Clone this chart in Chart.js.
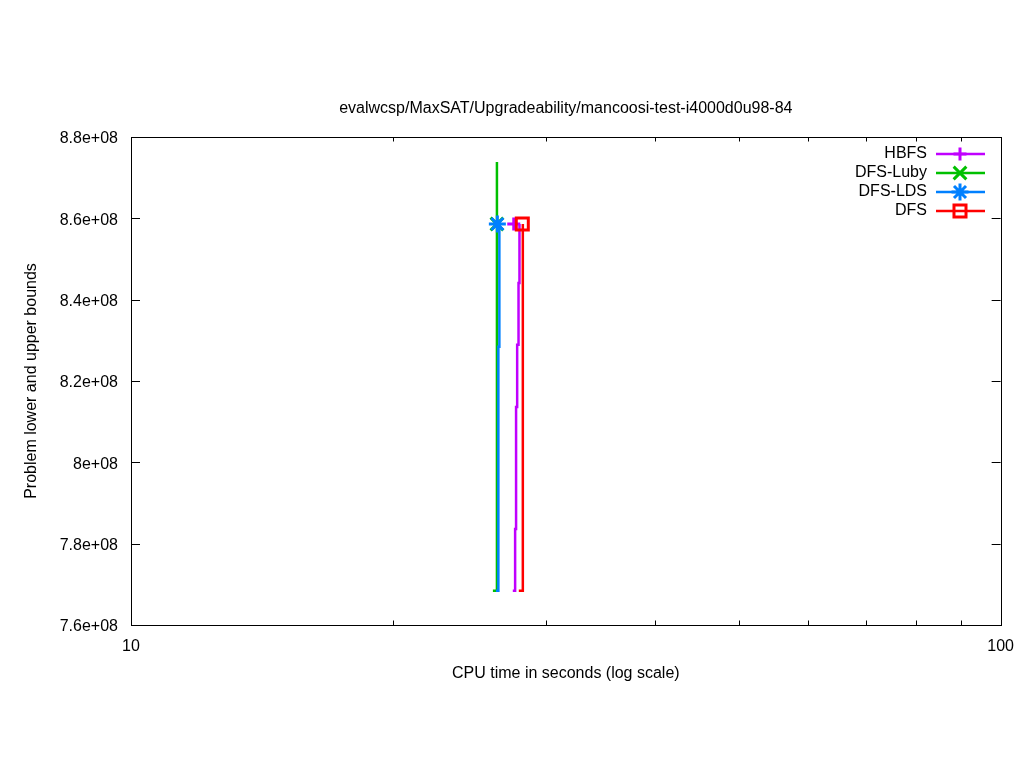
<!DOCTYPE html>
<html>
<head>
<meta charset="utf-8">
<script src="https://cdn.jsdelivr.net/npm/chart.js@4.4.1/dist/chart.umd.min.js"></script>
<style>
html, body { margin: 0; padding: 0; background: #fff; }
#wrap { width: 1024px; height: 768px; }
</style>
</head>
<body>
<div id="wrap"><canvas id="boundsChart" width="1024" height="768"></canvas></div>
<script>
// Data (waktu CPU dalam detik, nilai batas)
const ALGOS = ["HBFS", "DFS-Luby", "DFS-LDS", "DFS"];
const COLORS = ['#c000ff', '#00c000', '#0080ff', '#ff0000'];
const POINT_STYLES = ['cross', 'crossRot', 'star', 'rect'];

const hbfsLowerTime = [27.48, 27.65, 27.72, 27.80, 27.90, 27.97];
const hbfsLowerVal  = [7.684e8, 7.836e8, 8.136e8, 8.289e8, 8.441e8, 8.586e8];

const lubyLowerTime = [26.07, 26.35];
const lubyLowerVal  = [7.684e8, 8.586e8];
const lubyUpperTime = [26.35, 26.35];
const lubyUpperVal  = [8.7385e8, 8.586e8];

const ldsLowerTime = [26.28, 26.45, 26.52];
const ldsLowerVal  = [7.684e8, 8.284e8, 8.586e8];

const dfsLowerTime = [27.92, 28.22];
const dfsLowerVal  = [7.684e8, 8.586e8];

// titik akhir (marker) tiap algoritma
const finalTime = [27.55, 26.35, 26.38, 28.18];
const finalVal  = [8.586e8, 8.586e8, 8.586e8, 8.586e8];

const X_MIN = 10, X_MAX = 100;
const Y_MIN = 7.6e8, Y_MAX = 8.8e8, Y_STEP = 2e7;

const FONT = '"Liberation Sans", Arial, sans-serif';
Chart.defaults.font.family = FONT;
Chart.defaults.font.size = 16;
Chart.defaults.color = '#000';

function toPoints(xs, ys) {
    return xs.map((x, i) => ({ x: x, y: ys[i] }));
}

function sciLabel(v) {
    let [m, e] = Number(v).toExponential().split('e');
    m = String(parseFloat(parseFloat(m).toFixed(3)));
    const sign = e[0];
    e = e.slice(1).padStart(2, '0');
    return m + 'e' + sign + e;
}

function stepLine(idx, xs, ys) {
    return {
        label: ALGOS[idx],
        data: toPoints(xs, ys),
        borderColor: COLORS[idx],
        borderWidth: 2.5,
        stepped: true,
        pointRadius: 0,
        fill: false,
        order: 4 - idx
    };
}

function markerSet(idx, radius) {
    return {
        label: ALGOS[idx] + ' marker',
        data: [{ x: finalTime[idx], y: finalVal[idx] }],
        showLine: false,
        pointStyle: POINT_STYLES[idx],
        pointRadius: radius,
        pointBorderWidth: 3,
        pointBorderColor: COLORS[idx],
        pointBackgroundColor: 'rgba(0,0,0,0)',
        order: 4 - idx
    };
}

const MARKER_RADIUS = [6.5, 9, 8.5, 8.5];

// Bingkai + tick ke arah dalam (gaya gnuplot)
const frameTicks = {
    id: 'frameTicks',
    afterDatasetsDraw(chart) {
        const { ctx, chartArea: a, scales } = chart;
        ctx.save();
        ctx.strokeStyle = '#000';
        ctx.lineWidth = 1;
        ctx.beginPath();
        scales.y.ticks.forEach(t => {
            const y = Math.round(scales.y.getPixelForValue(t.value)) + 0.5;
            ctx.moveTo(a.left, y); ctx.lineTo(a.left + 9, y);
            ctx.moveTo(a.right, y); ctx.lineTo(a.right - 9, y);
        });
        // hanya 10,20,...,100 (tick minor gnuplot)
        scales.x.ticks.filter(t => Math.abs(t.value % 10) < 1e-9).forEach(t => {
            const x = Math.round(scales.x.getPixelForValue(t.value)) + 0.5;
            const major = (t.value === X_MIN || t.value === X_MAX);
            const len = major ? 9 : 4.5;
            ctx.moveTo(x, a.bottom); ctx.lineTo(x, a.bottom - len);
            ctx.moveTo(x, a.top); ctx.lineTo(x, a.top + len);
        });
        ctx.stroke();
        ctx.strokeRect(Math.round(a.left) + 0.5, Math.round(a.top) + 0.5,
            Math.round(a.right - a.left), Math.round(a.bottom - a.top));
        ctx.restore();
    }
};

// Legenda gaya gnuplot: teks rata kanan, garis + marker
const gnuLegend = {
    id: 'gnuLegend',
    afterDraw(chart) {
        const { ctx } = chart;
        ctx.save();
        ctx.font = '16px ' + FONT;
        ctx.textAlign = 'right';
        ctx.textBaseline = 'middle';
        ALGOS.forEach((name, i) => {
            const y = 154 + i * 19;
            ctx.fillStyle = '#000';
            ctx.fillText(name, 927, y);
            ctx.strokeStyle = COLORS[i];
            ctx.lineWidth = 2.5;
            ctx.beginPath();
            ctx.moveTo(936, y); ctx.lineTo(985, y);
            ctx.stroke();
            ctx.lineWidth = 3;
            ctx.fillStyle = 'rgba(0,0,0,0)';
            Chart.helpers.drawPoint(ctx, {
                pointStyle: POINT_STYLES[i], radius: MARKER_RADIUS[i], rotation: 0, borderWidth: 3
            }, 960, y);
        });
        ctx.restore();
    }
};

const ctx = document.getElementById('boundsChart').getContext('2d');
new Chart(ctx, {
    type: 'line',
    data: {
        datasets: [
            stepLine(0, hbfsLowerTime, hbfsLowerVal),
            stepLine(1, lubyLowerTime, lubyLowerVal),
            stepLine(1, lubyUpperTime, lubyUpperVal),
            stepLine(2, ldsLowerTime, ldsLowerVal),
            stepLine(3, dfsLowerTime, dfsLowerVal),
            markerSet(0, MARKER_RADIUS[0]),
            markerSet(1, MARKER_RADIUS[1]),
            markerSet(2, MARKER_RADIUS[2]),
            markerSet(3, MARKER_RADIUS[3])
        ]
    },
    options: {
        responsive: false,
        animation: false,
        layout: { padding: { top: 0, right: 23, bottom: 0, left: 0 } },
        plugins: {
            legend: { display: false },
            tooltip: { enabled: false },
            title: {
                display: true,
                fullSize: false,
                text: 'evalwcsp/MaxSAT/Upgradeability/mancoosi-test-i4000d0u98-84',
                font: { size: 16, weight: 'normal' },
                color: '#000',
                padding: { top: 99.4, bottom: 18.4 }
            }
        },
        scales: {
            x: {
                type: 'logarithmic',
                min: X_MIN,
                max: X_MAX,
                // tick bawaan disembunyikan; panjangnya hanya menggeser label
                grid: { display: true, drawOnChartArea: false, drawTicks: true, tickLength: 2, color: 'rgba(0,0,0,0)' },
                border: { display: false },
                ticks: {
                    autoSkip: false,
                    maxRotation: 0,
                    padding: 10,
                    callback: v => (v === X_MIN || v === X_MAX) ? String(v) : ''
                },
                title: {
                    display: true,
                    text: 'CPU time in seconds (log scale)',
                    padding: { top: 0, bottom: 84.4 }
                },
                afterFit: s => { s.height = 143; }
            },
            y: {
                type: 'linear',
                min: Y_MIN,
                max: Y_MAX,
                grid: { display: true, drawOnChartArea: false, drawTicks: false },
                border: { display: false },
                ticks: {
                    stepSize: Y_STEP,
                    padding: 13,
                    labelOffset: 2,
                    callback: v => sciLabel(v)
                },
                title: {
                    display: true,
                    text: 'Problem lower and upper bounds',
                    padding: { top: 22.4, bottom: 0 }
                },
                afterFit: s => { s.width = 131; }
            }
        }
    },
    plugins: [frameTicks, gnuLegend]
});
</script>
</body>
</html>
